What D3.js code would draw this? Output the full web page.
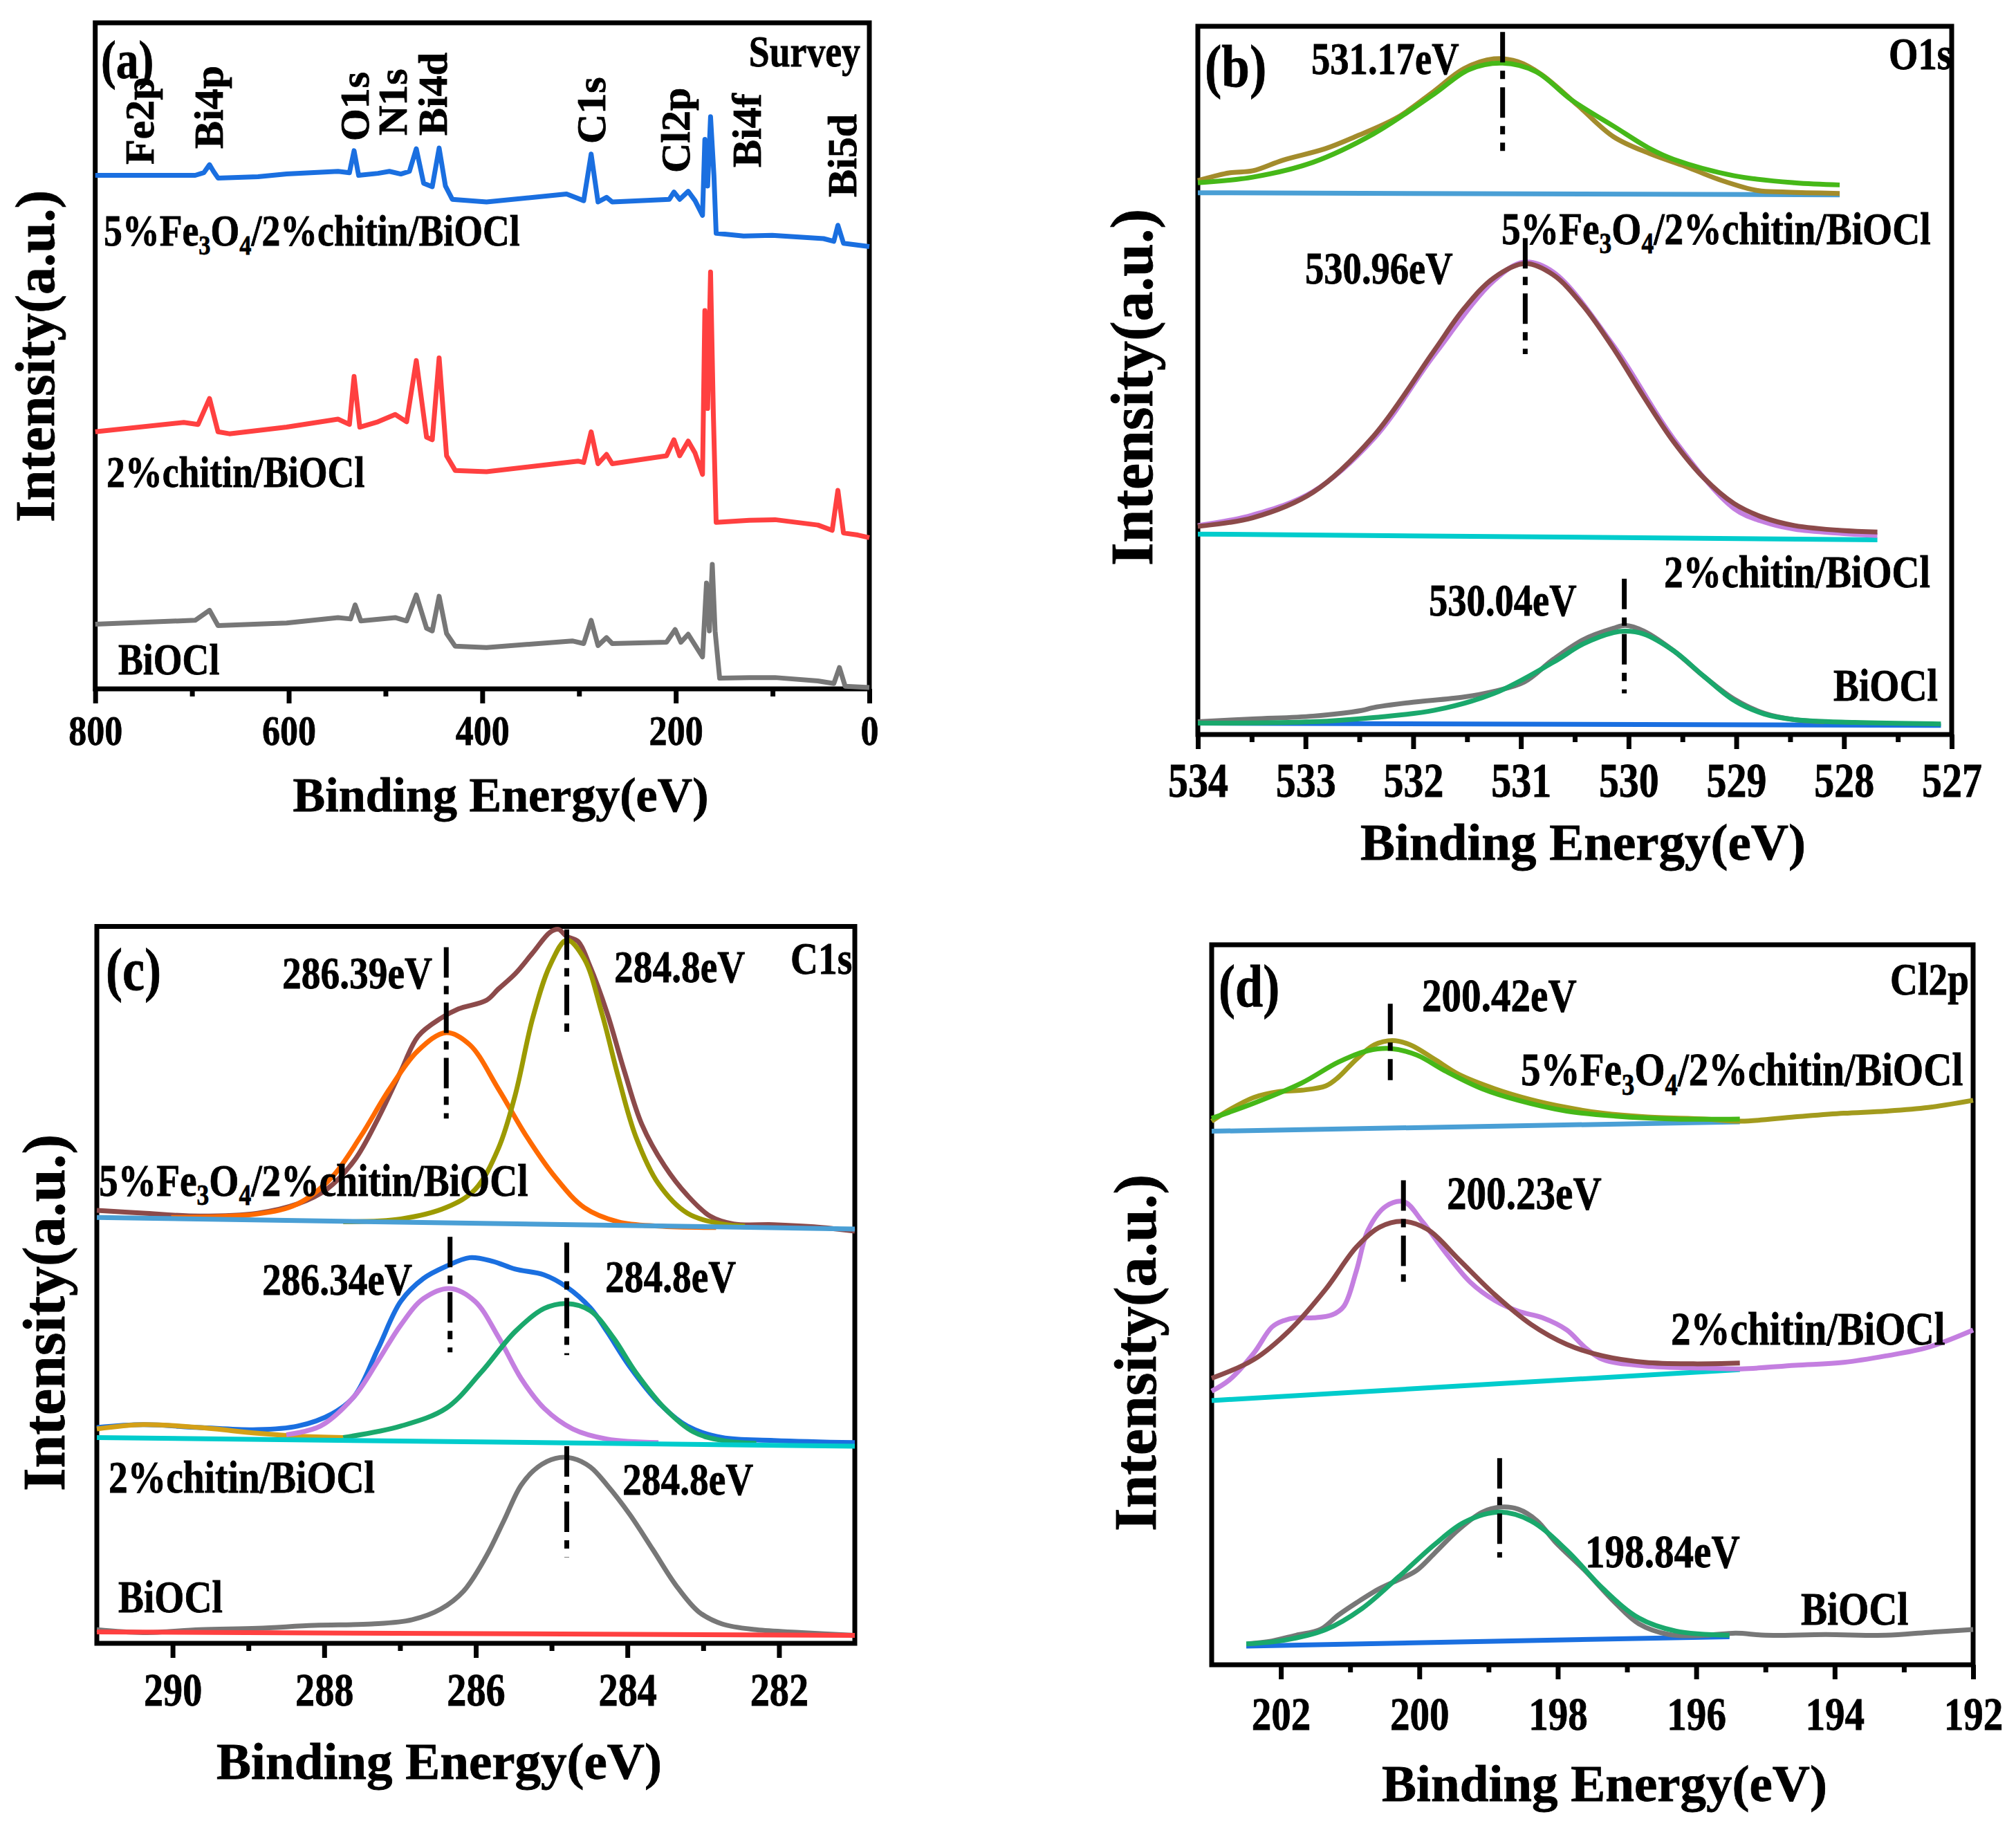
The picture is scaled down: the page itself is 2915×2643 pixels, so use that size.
<!DOCTYPE html>
<html>
<head>
<meta charset="utf-8">
<script src="https://cdn.jsdelivr.net/npm/d3@7"></script>
<style>
  body { margin: 0; background: #fff; }
</style>
</head>
<body>
<svg id="fig" width="2915" height="2643"></svg>
<script>
// ---- data: [binding energy (eV), intensity (a.u., 0-100 of panel height)] ----

// (a) survey
var surveyFe = [[800,77.1],[696.7,77.1],[687.8,77.5],[681.9,78.7],[677.8,77.7],[673.1,76.7],[631.7,76.9],[602.2,77.3],[549.1,77.7],[537.3,77.5],[532.5,80.8],[527.8,77.1],[507.8,77.4],[496,77.7],[484.2,77.3],[475.3,77.7],[468.2,81.1],[460.6,75.9],[451.7,75.4],[444.6,81.2],[438.1,75.5],[431,73.5],[395.6,73.1],[312.9,74.3],[295.2,73.3],[287.5,80.3],[280.4,73.1],[271.6,73.8],[265.7,73.1],[206.7,73.5],[201.9,74.6],[196,73.5],[187.2,74.7],[180.1,73.3],[172.4,71.1],[170,82.5],[167.1,75.5],[164.1,85.9],[160.6,77.1],[158.3,68.4],[129.9,68],[100.4,68.1],[47.3,67.6],[36.7,67.2],[32.5,69.6],[26.7,66.9],[0,66.4]];
var surveyChitin = [[800,38.6],[708.5,40],[693.7,39.7],[681.9,43.6],[673.1,38.6],[661.3,38.3],[602.2,39.3],[549.1,40.5],[537.3,39.7],[532.5,46.9],[526.6,39.3],[507.8,40.1],[490,41.2],[478.2,40.1],[468.2,49.3],[457.6,37.8],[451.7,37.4],[444.6,49.7],[436.9,35],[428,32.8],[395.6,32.6],[301.1,34.2],[295.2,34],[287.5,38.6],[280.4,33.8],[271.6,35.2],[265.7,33.8],[209.6,35],[201.9,37.4],[196,35],[187.2,37.2],[180.1,35.4],[172.4,32.2],[170,56.8],[167.1,42.1],[164.1,62.6],[161.2,41.3],[158.3,25],[124,25.3],[97.4,25.4],[53.2,24.6],[38.4,23.8],[32.5,29.8],[26.7,23.4],[11.9,23.1],[0,22.7]];
var surveyBiOCl = [[800,9.7],[696.7,10.3],[681.9,11.8],[673.1,9.5],[602.2,9.9],[549.1,10.7],[536.1,10.5],[531.4,12.6],[525.5,10.2],[490,10.7],[478.2,10.2],[468.2,14.1],[457.6,9.1],[451.7,8.7],[444.6,13.9],[436.9,8.3],[428,6.4],[395.6,6.2],[307,7.2],[295.2,6.8],[287.5,10.3],[280.4,6.5],[271.6,7.7],[265.7,6.8],[209.6,7],[200.7,8.9],[194.8,7],[187.2,8.2],[172.4,4.8],[168.3,15.9],[165.3,8.7],[162.3,18.7],[159.4,8.7],[154.7,1.6],[124,1.7],[97.4,1.7],[53.2,1.2],[36.7,0.8],[30.9,3.2],[25,0.4],[0,0.2]];
var surveyTicks = [800, 600, 400, 200, 0];
var surveyMinor = [700, 500, 300, 100];
var surveyPeaks = ["Fe2p", "Bi4p", "O1s", "N1s", "Bi4d", "C1s", "Cl2p", "Bi4f", "Bi5d"];

// (b) O1s
var o1sFeRaw = [[534,78.2],[533.71,79.3],[533.49,79.6],[533.21,81.1],[532.82,82.7],[532.54,84.4],[532.15,87.1],[531.81,90.8],[531.53,94],[531.25,95.4],[531.03,95],[530.81,93.2],[530.47,88.8],[530.14,84.4],[529.8,82],[529.47,80.2],[529.13,78.2],[528.8,76.8],[528.57,76.6],[528.35,76.5],[528.04,76.4]];
var o1sFeFit = [[534,77.9],[533.49,78.7],[532.93,80.8],[532.37,84.8],[531.81,90.4],[531.48,93.9],[531.17,94.8],[530.86,93.6],[530.53,89.6],[530.14,85.9],[529.8,82.7],[529.58,81.2],[529.02,78.9],[528.46,77.9],[528.04,77.6]];
var o1sFeBase = [[534,76.5],[528.04,76.2]];
var o1sChRaw = [[534,29.5],[533.49,31],[532.93,34.3],[532.37,41.7],[531.81,53.5],[531.25,64.1],[530.97,66.7],[530.7,65.3],[530.14,54.9],[529.58,41.7],[529.02,31.9],[528.74,30],[528.46,29],[528.02,28.4],[527.69,28.1]];
var o1sChFit = [[534,29.4],[533.49,30.6],[532.93,34.2],[532.37,42.1],[531.81,54.1],[531.53,60.1],[531.25,64.5],[530.96,66.5],[530.7,64.9],[530.42,60.5],[530.14,54.5],[529.86,47.7],[529.58,41.3],[529.3,36.2],[529.02,32.6],[528.74,30.6],[528.46,29.5],[528.02,28.8],[527.69,28.6]];
var o1sChBase = [[534,28.3],[527.69,27.5]];
var o1sBiRaw = [[534,1.8],[533.49,2.2],[532.93,2.6],[532.48,3.4],[532.37,3.8],[532.04,4.5],[531.53,5.3],[531.25,6.1],[530.97,7.4],[530.7,10.6],[530.42,13.4],[530.14,15],[530.03,15.4],[529.86,14.6],[529.58,11.8],[529.3,8.2],[529.02,5],[528.74,3],[528.46,2.1],[528.18,1.8]];
var o1sBiFit = [[534,1.6],[532.93,1.8],[532.37,2.4],[531.81,3.4],[531.25,5.8],[530.7,10.2],[530.42,12.8],[530.14,14.4],[530.03,14.6],[529.86,14.2],[529.58,11.8],[529.3,8.2],[529.02,4.8],[528.74,2.9],[528.46,2.1],[527.9,1.7],[527.1,1.5]];
var o1sBiBase = [[534,1.6],[527.1,1.3]];
var o1sTicks = [534, 533, 532, 531, 530, 529, 528, 527];
var o1sMinor = [533.5, 532.5, 531.5, 530.5, 529.5, 528.5, 527.5];
var o1sPeaks = [[531.17, 99.2, 82.4], [530.96, 70.1, 53.7], [530.04, 22.0, 5.8]];

// (c) C1s
var c1sFeRaw = [[291,60.4],[290.39,60],[289.64,59.6],[288.88,60],[288.35,61.3],[287.97,63.3],[287.6,67.4],[287.29,73.2],[286.99,79.8],[286.76,84.7],[286.46,87.2],[286.23,88.5],[285.86,89.7],[285.7,91.3],[285.48,93.4],[285.25,96.3],[285.02,99.2],[284.91,99.6],[284.8,98.6],[284.65,97.9],[284.5,94.6],[284.27,88],[284.04,79.8],[283.81,72.4],[283.51,66.6],[283.21,62.5],[282.91,59.6],[282.6,58.5],[282.07,58.4],[281.54,58.1],[281,57.5]];
var c1sFeFitA = [[290.02,59.4],[288.88,59.9],[288.35,61.3],[287.9,65],[287.52,70.7],[287.14,77.3],[286.76,82.7],[286.39,85.2],[286.08,83.5],[285.7,77.3],[285.33,70.7],[284.95,65],[284.57,60.8],[284.12,58.8],[283.59,58.2],[282.83,58]];
var c1sFeFitB = [[287.75,58.8],[286.99,59.2],[286.39,60.8],[286.01,63.3],[285.7,69.1],[285.48,76.5],[285.25,87.2],[285.02,94.6],[284.8,98.1],[284.57,95.5],[284.34,88],[284.12,79],[283.89,70.7],[283.59,64.1],[283.21,60],[282.75,58.5],[282.45,58.2]];
var c1sFeBase = [[291,59.4],[281,57.8]];
var c1sChRaw = [[291,30.1],[290.39,30.5],[289.64,30.1],[288.88,29.8],[288.35,30.3],[287.9,32],[287.6,34.5],[287.29,41.1],[286.99,47.7],[286.69,50.9],[286.39,52.6],[286.08,53.8],[285.78,53.3],[285.48,52.2],[285.1,51.4],[284.8,49.7],[284.49,46.8],[284.27,43.5],[283.97,38.6],[283.59,33.6],[283.21,30.3],[282.75,28.7],[282.07,28.3],[281,28]];
var c1sChFitC = [[291,29.9],[290.39,30.5],[289.64,30.1],[288.88,29.3],[288.35,28.9],[287.75,28.7]];
var c1sChFitA = [[288.5,29.1],[288.05,30.3],[287.6,34.5],[287.29,39.4],[286.99,44.4],[286.69,48.1],[286.34,49.5],[286.01,47.7],[285.7,42.7],[285.4,36.9],[285.1,32.8],[284.72,29.9],[284.27,28.5],[283.59,28]];
var c1sChFitB = [[287.75,28.7],[286.99,30.3],[286.39,32.8],[285.93,37.8],[285.48,43.5],[285.1,46.7],[284.8,47.4],[284.49,46.4],[284.19,42.7],[283.89,37.8],[283.51,32.8],[283.13,29.5],[282.75,28.3],[282.3,27.9]];
var c1sChBase = [[291,28.7],[281,27.5]];
var c1sBiRaw = [[291,1.9],[290.39,1.5],[289.64,1.9],[288.88,2.1],[288.13,2.5],[287.37,2.7],[286.84,3.3],[286.46,4.8],[286.16,7.3],[285.86,12.2],[285.63,17.1],[285.4,22.1],[285.18,24.6],[284.95,25.8],[284.72,25.8],[284.49,24.6],[284.27,22.1],[283.97,18],[283.66,13],[283.36,8.1],[283.06,4.4],[282.75,2.7],[282.3,1.9],[281.7,1.5],[281,1.1]];
var c1sBiBase = [[291,1.6],[281,1.1]];
var c1sTicks = [290, 288, 286, 284, 282];
var c1sMinor = [289, 287, 285, 283];
var c1sPeaks = [[286.39, 97.1, 73.2], [284.8, 99.6, 84.3], [286.34, 56.7, 40.6], [284.8, 55.9, 40.2], [284.8, 27.5, 12.0]];

// (d) Cl2p
var cl2pFeRaw = [[203,75.5],[202.74,77.1],[202.39,78.8],[202.04,79.6],[201.7,79.8],[201.35,80.4],[201.17,81.6],[200.91,84.1],[200.65,86.1],[200.39,86.7],[200.13,86.1],[199.78,84.1],[199.43,82],[198.91,80],[198.39,78.5],[197.87,77.4],[197.35,76.6],[196.74,76.1],[195.87,75.8],[195.35,75.5],[194.57,76.1],[193.87,76.6],[193.26,76.9],[192.65,77.4],[192,78.4]];
var cl2pFeFit = [[203,75.9],[202.39,78],[201.7,80.8],[201.17,83.7],[200.74,85.3],[200.42,85.6],[200.04,84.7],[199.61,82.4],[199.09,80],[198.57,78.4],[197.87,76.9],[197.17,76.2],[196.3,75.8],[195.37,75.8]];
var cl2pFeBase = [[203,74.1],[195.37,75.4]];
var cl2pChRaw = [[203,38],[202.74,39.6],[202.39,43.3],[202.13,46.9],[201.96,47.8],[201.78,48.2],[201.52,48.2],[201.26,48.6],[201.09,49.8],[200.91,54.7],[200.74,60.4],[200.48,63.7],[200.22,64.3],[199.96,61.6],[199.61,57.1],[199.26,53.1],[198.91,50.6],[198.57,49.1],[198.22,48.2],[197.87,46.5],[197.61,44.1],[197.35,42.4],[196.74,41.5],[195.87,41.2],[195.35,41.1],[194.57,41.6],[193.87,42],[193.26,42.9],[192.65,44.1],[192,46.5]];
var cl2pChFit = [[203,39.8],[202.39,42.4],[201.87,46.5],[201.35,52.2],[200.91,58],[200.57,60.8],[200.23,61.6],[199.87,60.4],[199.43,56.3],[198.91,51.4],[198.39,47.3],[197.87,44.5],[197.35,42.9],[196.74,42],[196.04,41.8],[195.37,41.9]];
var cl2pChBase = [[203,36.7],[195.37,41]];
var cl2pBiRaw = [[202.48,2.9],[202.13,3.3],[201.78,4.1],[201.43,4.9],[201.17,6.9],[200.91,8.6],[200.57,10.6],[200.3,11.8],[200.04,13.1],[199.78,15.5],[199.43,18.8],[199.09,21.2],[198.83,21.9],[198.57,21.6],[198.3,20],[198.04,17.1],[197.61,13.1],[197.17,8.6],[196.83,5.7],[196.39,4.2],[195.87,4.1],[195.43,4.4],[195,4.1],[194.13,4.2],[193.26,4.1],[192.65,4.5],[192,4.9]];
var cl2pBiFit = [[202.5,2.9],[201.96,3.4],[201.35,4.9],[200.83,7.8],[200.3,12.2],[199.78,16.7],[199.35,19.8],[198.84,21.2],[198.39,20],[197.87,15.9],[197.35,10.6],[196.83,6.5],[196.3,4.7],[195.52,4.1]];
var cl2pBiBase = [[202.5,2.6],[195.52,3.9]];
var cl2pTicks = [202, 200, 198, 196, 194, 192];
var cl2pMinor = [201, 199, 197, 195, 193];
var cl2pPeaks = [[200.42, 91.8, 81.2], [200.23, 67.3, 53.2], [198.84, 28.7, 14.9]];

var samples = ["5%Fe_3O_4/2%chitin/BiOCl", "2%chitin/BiOCl", "BiOCl"];

// ---- drawing ----
var svg = d3.select("#fig");
var FONT = "'Liberation Serif','Times New Roman',serif";
var SX = 0.84;   // the original lettering is horizontally condensed
var LW = 7;

function addText(g, x, y, s, size, anchor, sx) {
  var t = g.append("text")
    .attr("transform", "translate(" + x + "," + y + ") scale(" + (sx == null ? SX : sx) + ",1)")
    .attr("font-family", FONT).attr("font-weight", "bold")
    .attr("font-size", size).attr("text-anchor", anchor || "start")
    .attr("stroke", "#000").attr("stroke-width", 0.8);
  var sub = false;
  s.split(/(_\d)/).forEach(function (part) {
    if (!part) return;
    if (part[0] === "_") {
      t.append("tspan").attr("font-size", size * 0.64).attr("dy", size * 0.2).text(part.slice(1));
      sub = true;
    } else {
      var ts = t.append("tspan").text(part);
      if (sub) ts.attr("dy", -size * 0.2);
      sub = false;
    }
  });
  return t;
}

function addVText(g, x, y, s, size, anchor) {
  return g.append("text")
    .attr("transform", "translate(" + x + "," + y + ") rotate(-90)")
    .attr("font-family", FONT).attr("font-weight", "bold")
    .attr("font-size", size).attr("text-anchor", anchor || "start")
    .attr("stroke", "#000").attr("stroke-width", 0.8)
    .text(s);
}

function panel(p) {
  var g = svg.append("g");
  var x = d3.scaleLinear().domain(p.domain).range([p.x0, p.x1]);
  var y = d3.scaleLinear().domain([0, 100]).range([p.y1, p.y0]);

  g.append("rect")
    .attr("x", p.x0).attr("y", p.y0)
    .attr("width", p.x1 - p.x0).attr("height", p.y1 - p.y0)
    .attr("fill", "none").attr("stroke", "#000").attr("stroke-width", LW);

  var minor = g.append("g").attr("transform", "translate(0," + p.y1 + ")")
    .call(d3.axisBottom(x).tickValues(p.minor).tickSize(11).tickFormat(""));
  var major = g.append("g").attr("transform", "translate(0," + p.y1 + ")")
    .call(d3.axisBottom(x).tickValues(p.ticks).tickSize(21).tickFormat(d3.format("d")));
  [minor, major].forEach(function (a) {
    a.select(".domain").remove();
    a.selectAll("line").attr("stroke", "#000").attr("stroke-width", LW);
  });
  major.selectAll("text")
    .attr("y", p.tickBase).attr("dy", null)
    .attr("fill", "#000").attr("stroke", "#000").attr("stroke-width", 0.8)
    .attr("font-family", FONT).attr("font-weight", "bold").attr("font-size", p.tickFont)
    .attr("transform", "scale(" + SX + ",1)");

  var line = d3.line().x(function (d) { return x(d[0]); }).y(function (d) { return y(d[1]); })
    .curve(p.smooth ? d3.curveCatmullRom.alpha(0.5) : d3.curveLinear);
  p.curves.forEach(function (c) {
    g.append("path").datum(c[0]).attr("d", line)
      .attr("fill", "none").attr("stroke", c[1]).attr("stroke-width", LW)
      .attr("stroke-linejoin", "round").attr("stroke-linecap", "butt");
  });

  (p.peaks || []).forEach(function (k) {
    g.append("line")
      .attr("x1", x(k[0])).attr("x2", x(k[0]))
      .attr("y1", y(k[1])).attr("y2", y(k[2]))
      .attr("stroke", "#000").attr("stroke-width", LW)
      .attr("stroke-dasharray", "44,12,12,12");
  });

  addText(g, p.titleX, p.titleY, "Binding Energy(eV)", p.titleFont, "middle", 1);
  addVText(g, p.yTitleX, p.yTitleY, "Intensity(a.u.)", p.yTitleFont, "middle");
  return {g: g, x: x, y: y};
}

// (a) survey
var A = panel({
  x0: 137.7, x1: 1257, y0: 33, y1: 996, domain: [800, 0],
  ticks: surveyTicks, minor: surveyMinor, tickBase: 81, tickFont: 62, smooth: false,
  curves: [[surveyFe, "#1a6fe0"], [surveyChitin, "#ff4040"], [surveyBiOCl, "#777777"]],
  titleX: 724, titleY: 1173, titleFont: 70,
  yTitleX: 78, yTitleY: 515, yTitleFont: 80
});
addText(A.g, 146, 113, "(a)", 78);
addText(A.g, 1244, 96, "Survey", 64, "end");
addText(A.g, 150, 355, samples[0], 64);
addText(A.g, 154, 704, samples[1], 64);
addText(A.g, 171, 975, samples[2], 64);
var surveyLabelPos = [[222, 238], [322, 215], [533, 204], [588, 196], [646, 196], [875, 208], [997, 250], [1100, 242], [1238, 285]];
surveyPeaks.forEach(function (s, i) {
  addVText(A.g, surveyLabelPos[i][0], surveyLabelPos[i][1], s, 60);
});

// (b) O1s
var B = panel({
  x0: 1732, x1: 2822, y0: 38, y1: 1062, domain: [534, 527],
  ticks: o1sTicks, minor: o1sMinor, tickBase: 90, tickFont: 69, smooth: true,
  curves: [[o1sFeBase, "#4a9fd5"], [o1sFeRaw, "#a38c2c"], [o1sFeFit, "#46b818"],
           [o1sChBase, "#00cccc"], [o1sChRaw, "#c47fe0"], [o1sChFit, "#8c4a4a"],
           [o1sBiBase, "#1a6fe0"], [o1sBiRaw, "#777777"], [o1sBiFit, "#1aa86c"]],
  peaks: o1sPeaks,
  titleX: 2289, titleY: 1243, titleFont: 75,
  yTitleX: 1666, yTitleY: 560, yTitleFont: 86
});
addText(B.g, 1742, 125, "(b)", 87);
addText(B.g, 2731, 100, "O1s", 65);
addText(B.g, 2171, 353, samples[0], 66);
addText(B.g, 2406, 849, samples[1], 66);
addText(B.g, 2651, 1013, samples[2], 66);
var o1sLabelPos = [[1896, 107], [1887, 410], [2066, 890]];
o1sPeaks.forEach(function (k, i) {
  addText(B.g, o1sLabelPos[i][0], o1sLabelPos[i][1], k[0] + "eV", 65);
});

// (c) C1s
var C = panel({
  x0: 140, x1: 1236, y0: 1339.5, y1: 2376, domain: [291, 281],
  ticks: c1sTicks, minor: c1sMinor, tickBase: 90, tickFont: 67, smooth: true,
  curves: [[c1sFeRaw, "#8c4a4a"], [c1sFeFitA, "#ff6a00"], [c1sFeFitB, "#9c9a00"], [c1sFeBase, "#4a9fd5"],
           [c1sChRaw, "#1a6fe0"], [c1sChFitC, "#d4a017"], [c1sChFitA, "#c47fe0"], [c1sChFitB, "#1aa86c"], [c1sChBase, "#00cccc"],
           [c1sBiRaw, "#777777"], [c1sBiBase, "#ff4040"]],
  peaks: c1sPeaks,
  titleX: 635, titleY: 2572, titleFont: 75,
  yTitleX: 93, yTitleY: 1898, yTitleFont: 86
});
addText(C.g, 153, 1431, "(c)", 86);
addText(C.g, 1143, 1408, "C1s", 66);
addText(C.g, 143, 1729, samples[0], 66);
addText(C.g, 157, 2158, samples[1], 66);
addText(C.g, 171, 2331, samples[2], 66);
var c1sLabelPos = [[408, 1429], [888, 1420], [379, 1872], [875, 1868], [900, 2161]];
c1sPeaks.forEach(function (k, i) {
  addText(C.g, c1sLabelPos[i][0], c1sLabelPos[i][1], k[0] + "eV", 66);
});

// (d) Cl2p
var D = panel({
  x0: 1752, x1: 2853, y0: 1366, y1: 2407, domain: [203, 192],
  ticks: cl2pTicks, minor: cl2pMinor, tickBase: 94, tickFont: 68, smooth: true,
  curves: [[cl2pFeBase, "#4a9fd5"], [cl2pFeRaw, "#a39b1e"], [cl2pFeFit, "#46b818"],
           [cl2pChBase, "#00cccc"], [cl2pChRaw, "#c47fe0"], [cl2pChFit, "#8c4a4a"],
           [cl2pBiBase, "#1a6fe0"], [cl2pBiRaw, "#777777"], [cl2pBiFit, "#1aa86c"]],
  peaks: cl2pPeaks,
  titleX: 2320, titleY: 2604, titleFont: 75,
  yTitleX: 1671, yTitleY: 1956, yTitleFont: 86
});
addText(D.g, 1762, 1455, "(d)", 86);
addText(D.g, 2733, 1438, "Cl2p", 66);
addText(D.g, 2199, 1569, samples[0], 68);
addText(D.g, 2416, 1944, samples[1], 68);
addText(D.g, 2604, 2349, samples[2], 68);
var cl2pLabelPos = [[2056, 1462], [2092, 1748], [2292, 2266]];
cl2pPeaks.forEach(function (k, i) {
  addText(D.g, cl2pLabelPos[i][0], cl2pLabelPos[i][1], k[0] + "eV", 68);
});
</script>
</body>
</html>
